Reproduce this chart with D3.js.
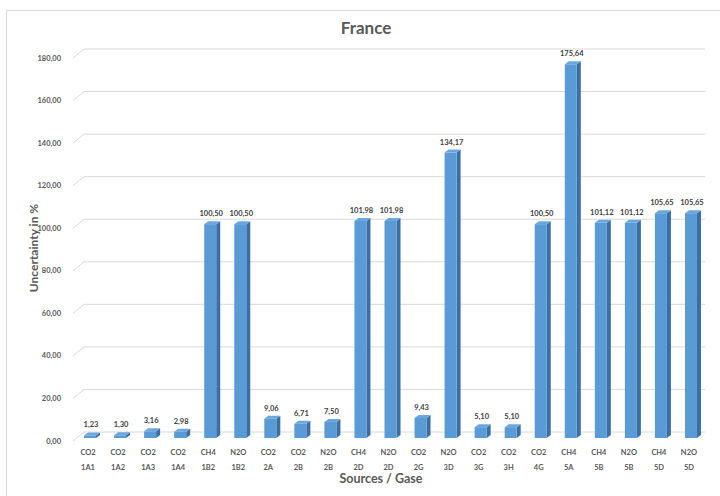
<!DOCTYPE html>
<html>
<head>
<meta charset="utf-8">
<script src="https://cdn.jsdelivr.net/npm/d3@7"></script>
<style>
  html, body { margin: 0; padding: 0; background: #ffffff; }
  svg { display: block; }
  text { font-family: Lato, "Open Sans", "Liberation Sans", sans-serif; }
</style>
</head>
<body>
<svg id="chart" width="720" height="496"></svg>
<script>
// Uncertainty by source category and gas
const gases   = ["CO2","CO2","CO2","CO2","CH4","N2O","CO2","CO2","N2O","CH4","N2O",
                 "CO2","N2O","CO2","CO2","CO2","CH4","CH4","N2O","CH4","N2O"];
const sources = ["1A1","1A2","1A3","1A4","1B2","1B2","2A","2B","2B","2D","2D",
                 "2G","3D","3G","3H","4G","5A","5B","5B","5D","5D"];
const values  = [1.23, 1.30, 3.16, 2.98, 100.50, 100.50, 9.06, 6.71, 7.50, 101.98, 101.98,
                 9.43, 134.17, 5.10, 5.10, 100.50, 175.64, 101.12, 101.12, 105.65, 105.65];
const yTicks  = [0, 20, 40, 60, 80, 100, 120, 140, 160, 180];

const fmt = d3.formatLocale({decimal: ",", thousands: ".", grouping: [3], currency: ["", "€"]}).format(".2f");

const svg = d3.select("#chart");

// chart area frame
svg.append("rect")
  .attr("x", 6.5).attr("y", 10.5).attr("width", 800).attr("height", 600)
  .attr("fill", "none").attr("stroke", "#d9d9d9").attr("stroke-width", 1);

// 3D depth offsets: front plane -> back wall, and bar depth
const wallDx = 11, wallDy = -9;
const barDx = 4, barDy = -3;

const idx = d3.range(values.length);
const x = d3.scaleBand().domain(idx).range([73, 704]);
const yFront = d3.scaleLinear().domain([0, 180]).range([441, 58]);
const yBar = d3.scaleLinear().domain([0, 180]).range([438, 55]);

const xFloorLeft = 73;
const xWallRight = 705;

// gridlines: short diagonal on the side floor plus the back wall line
const grid = svg.append("g").attr("stroke", "#d9d9d9").attr("stroke-width", 1).attr("fill", "none");
yTicks.forEach(t => {
  const yf = yFront(t), yb = yf + wallDy;
  grid.append("path")
    .attr("d", `M${xFloorLeft},${yf}L${xFloorLeft + wallDx},${yb}L${xWallRight},${yb}`);
});

// y tick labels
svg.append("g").selectAll("text").data(yTicks).join("text")
  .attr("x", 61).attr("y", d => yFront(d) + 2.5)
  .attr("text-anchor", "end")
  .attr("font-size", 7.5).attr("font-weight", "bold").attr("fill", "#595959")
  .text(d => fmt(d));

// bars with front, side and top faces
const barW = 12;
const bars = svg.append("g");
idx.forEach(i => {
  const c = x(i) + x.bandwidth() / 2;
  const x0 = c - 4, x1 = x0 + barW;
  const yb = yBar(0), yt = yBar(values[i]);
  const g = bars.append("g");
  // side face
  g.append("path")
    .attr("d", `M${x1},${yb}L${x1 + barDx},${yb + barDy}L${x1 + barDx},${yt + barDy}L${x1},${yt}Z`)
    .attr("fill", "#3a6fa6");
  // front face
  g.append("rect")
    .attr("x", x0).attr("y", yt).attr("width", barW).attr("height", yb - yt)
    .attr("fill", "#5b9bd5");
  // top face
  g.append("path")
    .attr("d", `M${x0},${yt}L${x0 + barDx},${yt + barDy}L${x1 + barDx},${yt + barDy}L${x1},${yt}Z`)
    .attr("fill", "#6aa7dd");
  // value label
  g.append("text")
    .attr("x", c + 3).attr("y", yt + barDy - 5)
    .attr("text-anchor", "middle")
    .attr("font-size", 7.5).attr("font-weight", "bold").attr("fill", "#404040")
    .text(fmt(values[i]));
});

// category labels: gas row and source row
const cat = svg.append("g").attr("text-anchor", "middle")
  .attr("font-size", 7.5).attr("font-weight", "bold").attr("fill", "#595959");
idx.forEach(i => {
  const c = x(i) + x.bandwidth() / 2;
  cat.append("text").attr("x", c).attr("y", 455).text(gases[i]);
  cat.append("text").attr("x", c).attr("y", 470).text(sources[i]);
});

// titles
svg.append("text")
  .attr("x", 366).attr("y", 34)
  .attr("text-anchor", "middle")
  .attr("font-size", 17).attr("font-weight", "bold").attr("fill", "#595959")
  .text("France");

svg.append("text")
  .attr("x", 381).attr("y", 483)
  .attr("text-anchor", "middle")
  .attr("font-size", 12.5).attr("font-weight", "bold").attr("fill", "#595959")
  .text("Sources / Gase");

svg.append("text")
  .attr("transform", "translate(38,248) rotate(-90)")
  .attr("text-anchor", "middle")
  .attr("font-size", 12).attr("font-weight", "bold").attr("fill", "#595959")
  .text("Uncertainty in %");
</script>
</body>
</html>
